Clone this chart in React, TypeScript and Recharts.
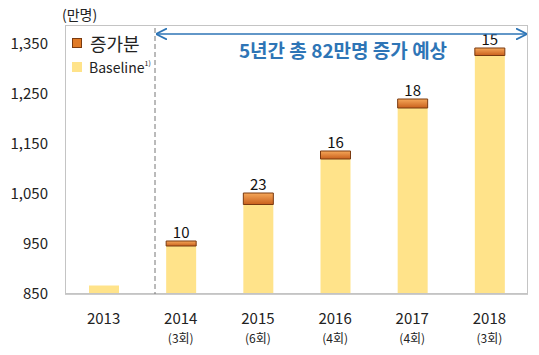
import React from 'react';
import {
  BarChart,
  Bar,
  XAxis,
  YAxis,
  LabelList,
} from 'recharts';

const years = ['2013', '2014', '2015', '2016', '2017', '2018'];
const rounds = ['', '(3회)', '(6회)', '(4회)', '(4회)', '(3회)'];
const baseline = [867, 946, 1029, 1120, 1222, 1327];
const increase = [0, 10, 23, 16, 18, 15];
const yTicks = [850, 950, 1050, 1150, 1250, 1350];

const data = years.map((y, i) => ({
  year: y,
  sub: rounds[i],
  base: baseline[i],
  inc: increase[i],
}));

const FONT = '"Noto Sans CJK KR", "Noto Sans", sans-serif';
const BLUE = '#2e75b6';

const YearTick = (props: any) => {
  const { x, y, payload, index } = props;
  return (
    <g>
      <text x={x} y={y + 22} textAnchor="middle" fontSize={15} fill="#222" fontFamily={FONT}>
        {payload.value}
      </text>
      {rounds[index] && (
        <text x={x} y={y + 41} textAnchor="middle" fontSize={12} fill="#222" fontFamily={FONT}>
          {rounds[index]}
        </text>
      )}
    </g>
  );
};

const LegendBox = () => (
  <div style={{ position: 'absolute', left: 72, top: 30, fontFamily: FONT, color: '#222' }}>
    <div style={{ display: 'flex', alignItems: 'center', height: 26 }}>
      <span
        style={{
          width: 8,
          height: 8,
          background: '#e07a26',
          border: '1px solid #7a3a10',
          marginRight: 8,
        }}
      />
      <span style={{ fontSize: 18 }}>증가분</span>
    </div>
    <div style={{ display: 'flex', alignItems: 'center', height: 22 }}>
      <span style={{ width: 10, height: 10, background: '#ffe38a', marginRight: 7 }} />
      <span style={{ fontSize: 14 }}>Baseline</span>
      <sup style={{ fontSize: 7, alignSelf: 'flex-start', marginTop: 2 }}>1)</sup>
    </div>
  </div>
);

export default function App() {
  return (
    <div style={{ position: 'absolute', left: 0, top: 0, width: 539, height: 355, background: '#fff' }}>
      <BarChart
        width={539}
        height={355}
        data={data}
        margin={{ top: 25, right: 11, left: 5, bottom: 11 }}
        barSize={30}
      >
        <defs>
          <linearGradient id="incFill" x1="0" y1="0" x2="0" y2="1">
            <stop offset="0%" stopColor="#f6a85a" />
            <stop offset="100%" stopColor="#c9601c" />
          </linearGradient>
        </defs>
        <XAxis
          dataKey="year"
          axisLine={{ stroke: '#9a9a9a' }}
          tickLine={false}
          tick={<YearTick />}
          height={50}
          interval={0}
        />
        <YAxis
          width={60}
          domain={[850, 1388]}
          ticks={yTicks}
          allowDataOverflow
          axisLine={false}
          tickLine={false}
          tickSize={0}
          tickMargin={17}
          tickFormatter={(v: number) => v.toLocaleString('en-US')}
          tick={{ fontSize: 15, fill: '#222', fontFamily: FONT }}
        />
        <Bar dataKey="base" stackId="a" fill="#ffe38a" isAnimationActive={false} />
        <Bar
          dataKey="inc"
          stackId="a"
          fill="url(#incFill)"
          stroke="#7a3a10"
          strokeWidth={1}
          isAnimationActive={false}
        >
          <LabelList
            dataKey="inc"
            position="top"
            offset={3}
            formatter={(v: any) => (v ? v : '')}
            style={{ fontSize: 15, fill: '#111', fontFamily: FONT }}
          />
        </Bar>
      </BarChart>
      <svg
        width={539}
        height={355}
        style={{ position: 'absolute', left: 0, top: 0, pointerEvents: 'none' }}
      >
        <defs>
          <marker id="ah" viewBox="0 0 10 10" refX="9" refY="5" markerWidth="7" markerHeight="7" orient="auto-start-reverse">
            <path d="M0,0 L10,5 L0,10" fill="none" stroke={BLUE} strokeWidth={1.6} />
          </marker>
        </defs>
        <rect x={65.5} y={25.5} width={462} height={268} fill="none" stroke="#c4c4c4" />
        <line x1={155} y1={28} x2={155} y2={294} stroke="#777" strokeDasharray="5 3" />
        <line x1={157} y1={34} x2={526} y2={34} stroke={BLUE} strokeWidth={1.6} markerStart="url(#ah)" markerEnd="url(#ah)" />
        <text x={343} y={58} textAnchor="middle" fontSize={19} fontWeight="bold" fill={BLUE} fontFamily={FONT}>
          5년간 총 82만명 증가 예상
        </text>
        <text x={62} y={20} fontSize={14} fill="#222" fontFamily={FONT}>
          (만명)
        </text>
      </svg>
      <LegendBox />
    </div>
  );
}
